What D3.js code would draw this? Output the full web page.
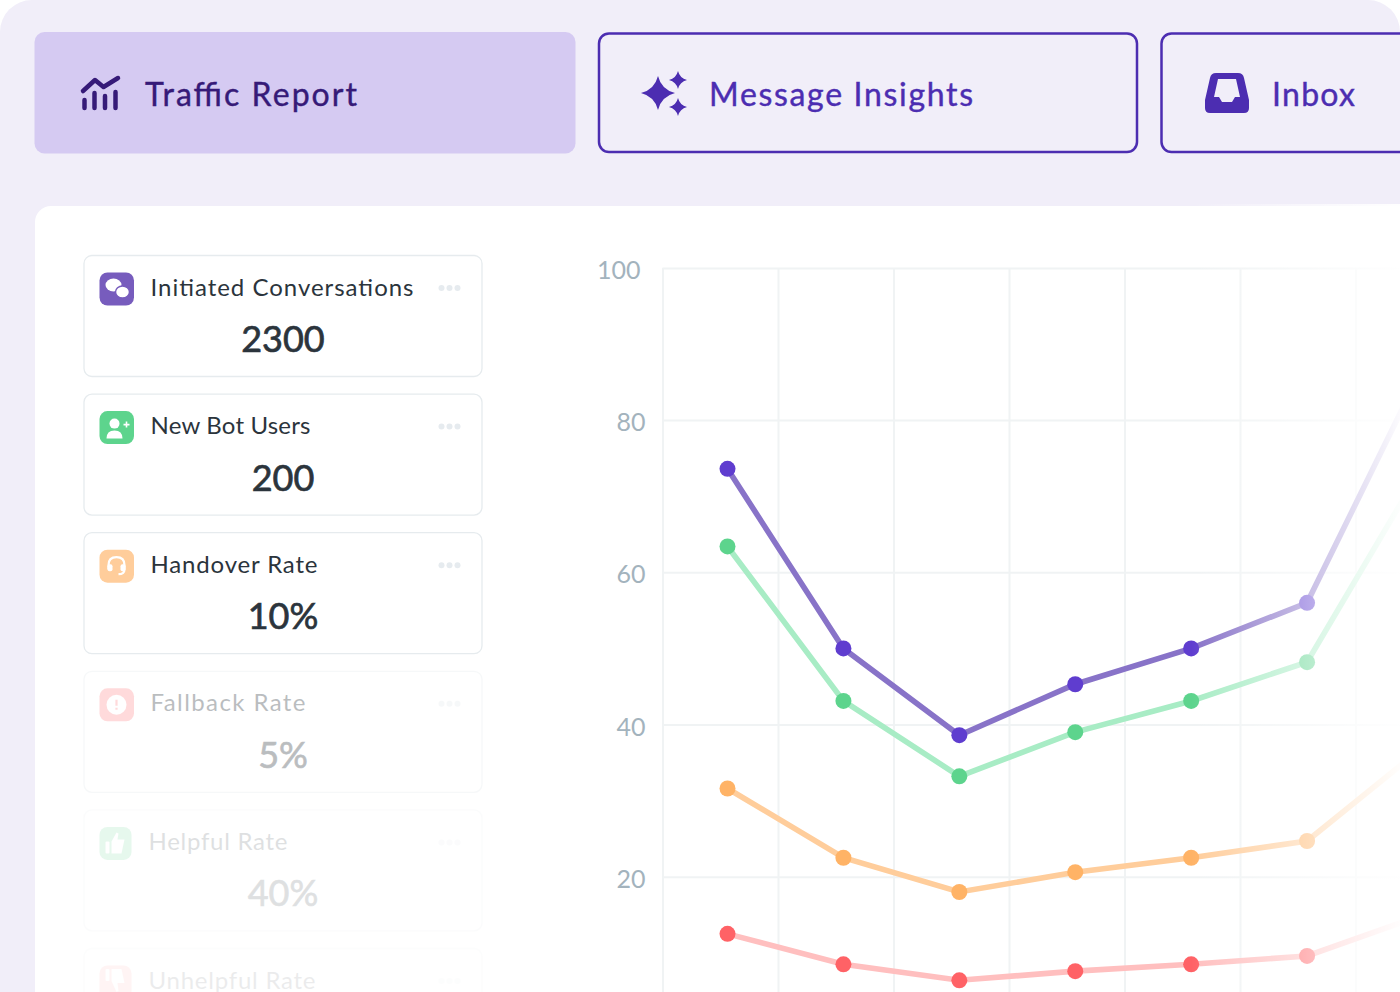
<!DOCTYPE html>
<html>
<head>
<meta charset="utf-8">
<script src="https://cdn.jsdelivr.net/npm/d3@7"></script>
<style>
  html, body { margin: 0; padding: 0; background: #fff; overflow: hidden; }
  svg { display: block; }
  text { font-family: Lato, "Noto Sans", sans-serif; }
  .y-axis path, .x-grid path { display: none; }
  .y-axis line, .x-grid line { stroke: #f0f3f4; stroke-width: 2; }
  .y-axis text { fill: #a3b3bd; font-size: 25px; }
</style>
</head>
<body>
<svg id="chart" width="1400" height="992"></svg>
<script>
// chart values
var tabNames = ["Traffic Report", "Message Insights", "Inbox"];
var cardNames = ["Initiated Conversations", "New Bot Users", "Handover Rate", "Fallback Rate", "Helpful Rate", "Unhelpful Rate"];
var cardValues = ["2300", "200", "10%", "5%", "40%", ""];
var periods = [1, 2, 3, 4, 5, 6, 7];
var yTicks = [20, 40, 60, 80, 100];
var conversations = [73.6, 50, 38.6, 45.3, 50, 56, 87];
var botUsers = [63.4, 43.1, 33.2, 39, 43.1, 48.2, 74];
var handovers = [31.6, 22.5, 18, 20.6, 22.5, 24.7, 37];
var fallbacks = [12.5, 8.5, 6.4, 7.6, 8.5, 9.6, 15];

var svg = d3.select("#chart");
var defs = svg.append("defs");

// styles per series and card, kept apart from the values
var seriesList = [
  {values: fallbacks, line: "#ffbfbf", dot: "#ff6266"},
  {values: handovers, line: "#ffcd9b", dot: "#ffb366"},
  {values: botUsers, line: "#a8ecc5", dot: "#5dd48d"},
  {values: conversations, line: "#8873c8", dot: "#5f3dcf"}
];
var cardStyle = [
  {icon: "#775cbd", fade: 1, textX: 67, textW: 263, iconW: 34.5},
  {icon: "#5dd48d", fade: 1, textX: 67, textW: 160, iconW: 34.5},
  {icon: "#ffcd9b", fade: 1, textX: 67, textW: 167, iconW: 34.5},
  {icon: "#ff8f92", fade: 0.32, textX: 67, textW: 155, iconW: 34.5},
  {icon: "#5dd48d", fade: 0.15, textX: 65, textW: 139, iconW: 32},
  {icon: "#ff8f92", fade: 0.09, textX: 65, textW: 167, iconW: 32}
];

// page background
svg.append("rect").attr("x", 0).attr("y", 0).attr("width", 1400).attr("height", 1100)
  .attr("rx", 32).attr("fill", "#f1eef9");
svg.append("rect").attr("x", 35).attr("y", 206).attr("width", 1420).attr("height", 850)
  .attr("rx", 16).attr("fill", "#fff");

// tabs
var tabX = [34.5, 599, 1161.5];
var tabW = [541, 538, 260];
var tabTextX = [145, 709, 1272];
var tabTextW = [212, 264, 83];
var tabs = svg.selectAll("g.tab").data(tabNames).enter().append("g").attr("class", "tab");
tabs.append("rect")
  .attr("x", function (d, i) { return tabX[i]; })
  .attr("y", function (d, i) { return i ? 33.5 : 32; })
  .attr("width", function (d, i) { return tabW[i]; })
  .attr("height", function (d, i) { return i ? 118.5 : 121.5; })
  .attr("rx", 10)
  .attr("fill", function (d, i) { return i ? "none" : "#d5caf2"; })
  .attr("stroke", function (d, i) { return i ? "#4c2db1" : "none"; })
  .attr("stroke-width", 2.5);
tabs.append("text")
  .attr("x", function (d, i) { return tabTextX[i]; })
  .attr("y", 106)
  .attr("font-size", 32)
  .attr("textLength", function (d, i) { return tabTextW[i]; })
  .attr("lengthAdjust", "spacing")
  .attr("fill", function (d, i) { return i ? "#4c2db1" : "#361a78"; })
  .attr("stroke", function (d, i) { return i ? "#4c2db1" : "#361a78"; })
  .attr("stroke-width", 0.4)
  .text(function (d) { return d; });

// tab icons
var chartIcon = svg.append("g").attr("fill", "none").attr("stroke", "#361a78")
  .attr("stroke-width", 4.5).attr("stroke-linecap", "round").attr("stroke-linejoin", "round");
chartIcon.append("path").attr("d", "M83 91L95 80L103.500 87L118 78");
[84.5, 94.5, 105, 115.500].forEach(function (x, i) {
  chartIcon.append("line").attr("x1", x).attr("x2", x).attr("y2", 108)
    .attr("y1", [100, 93, 96, 92][i]);
});
function sparkle(cx, cy, r) {
  var k = r * 0.2;
  return "M" + cx + " " + (cy - r) + "Q" + (cx + k) + " " + (cy - k) + " " + (cx + r) + " " + cy +
    "Q" + (cx + k) + " " + (cy + k) + " " + cx + " " + (cy + r) +
    "Q" + (cx - k) + " " + (cy + k) + " " + (cx - r) + " " + cy +
    "Q" + (cx - k) + " " + (cy - k) + " " + cx + " " + (cy - r) + "Z";
}
svg.append("path").attr("fill", "#4c2db1")
  .attr("d", sparkle(658, 93, 17) + sparkle(678, 80, 9) + sparkle(678, 107, 9));
svg.append("path").attr("fill", "#4c2db1").attr("fill-rule", "evenodd")
  .attr("d", "M1216 73H1238Q1243 73 1244 78L1249 100V108Q1249 113 1244 113H1210Q1205 113 1205 108V100L1210 78Q1211 73 1216 73Z" +
    "M1218 79L1214 97H1219L1222 102H1232L1235 97H1240L1236 79Z");

// metric cards
var cardY = d3.scaleLinear().domain([0, 5]).range([255, 948]);
var cards = svg.selectAll("g.card").data(cardNames).enter().append("g").attr("class", "card")
  .attr("transform", function (d, i) { return "translate(83.5," + cardY(i) + ")"; })
  .attr("opacity", function (d, i) { return cardStyle[i].fade; });
cards.append("rect").attr("x", 0.5).attr("y", 0.5).attr("width", 398).attr("height", 121)
  .attr("rx", 8).attr("fill", "#fff").attr("stroke", "#e6ebee").attr("stroke-width", 1.3);
cards.append("rect").attr("x", 16).attr("y", 17.5)
  .attr("width", function (d, i) { return cardStyle[i].iconW; }).attr("height", 33)
  .attr("rx", 8).attr("fill", function (d, i) { return cardStyle[i].icon; });
cards.append("text")
  .attr("x", function (d, i) { return cardStyle[i].textX; })
  .attr("y", 40.5)
  .attr("font-size", 24)
  .attr("textLength", function (d, i) { return cardStyle[i].textW; })
  .attr("lengthAdjust", "spacing")
  .attr("fill", "#2b343c")
  .text(function (d) { return d; });
cards.append("text").attr("x", 199.5).attr("y", 97)
  .attr("text-anchor", "middle").attr("font-size", 36)
  .attr("fill", "#2b343c").attr("stroke", "#2b343c").attr("stroke-width", 0.7)
  .text(function (d, i) { return cardValues[i]; });
[358, 366, 374].forEach(function (x) {
  cards.append("circle").attr("cx", x).attr("cy", 33).attr("r", 3).attr("fill", "#e6ebef");
});

// card icon glyphs
function glyph(i) { return cards.filter(function (d, j) { return j === i; }).append("g").attr("fill", "#fff"); }
var g0 = glyph(0);
g0.append("ellipse").attr("cx", 30).attr("cy", 30).attr("rx", 8).attr("ry", 6.5);
g0.append("ellipse").attr("cx", 39).attr("cy", 37).attr("rx", 7).attr("ry", 6)
  .attr("stroke", "#775cbd").attr("stroke-width", 1.5);
var g1 = glyph(1);
g1.append("circle").attr("cx", 31).attr("cy", 30).attr("r", 5);
g1.append("path").attr("d", "M23 45Q23 37 31 37Q39 37 39 45Z");
g1.append("path").attr("d", "M40 31H46M43 28V34").attr("stroke", "#fff").attr("stroke-width", 1.6);
var g2 = glyph(2);
g2.append("path").attr("fill", "none").attr("stroke", "#fff").attr("stroke-width", 2.2)
  .attr("d", "M25 37V33Q25 25 33 25Q41 25 41 33V37Q41 42 35 42");
g2.append("rect").attr("x", 24).attr("y", 32).attr("width", 5).attr("height", 7).attr("rx", 2);
g2.append("rect").attr("x", 37).attr("y", 32).attr("width", 5).attr("height", 7).attr("rx", 2);
var g3 = glyph(3);
g3.append("circle").attr("cx", 33).attr("cy", 34).attr("r", 10);
g3.append("path").attr("d", "M33 29V35M33 37V39").attr("stroke", "#ff8f92").attr("stroke-width", 2.2);
var g4 = glyph(4);
g4.append("rect").attr("x", 22).attr("y", 32).attr("width", 4).attr("height", 12).attr("rx", 1);
g4.append("path").attr("d", "M28 32L33 23L35 24L34 30H41L38 44H28Z");
var g5 = glyph(5);
g5.append("rect").attr("x", 22).attr("y", 21).attr("width", 4).attr("height", 12).attr("rx", 1);
g5.append("path").attr("d", "M28 33L33 44L35 43L34 35H41L38 21H28Z");

// chart scales and axes
var x = d3.scalePoint().domain(periods).range([727.5, 1423]);
var y = d3.scaleLinear().domain([0, 100]).range([1029, 267.9]);
var xGrid = d3.scaleLinear().domain([0, 6]).range([662.5, 1355.5]);

svg.append("g").attr("class", "y-axis")
  .attr("transform", "translate(662.5,0)")
  .call(d3.axisLeft(y).tickValues(yTicks).tickSize(-780).tickPadding(17))
  .selectAll("text")
  .attr("dy", "0.42em")
  .attr("x", function (d) { return d === 100 ? -22 : -17; });
svg.append("g").attr("class", "x-grid")
  .attr("transform", "translate(0,267.9)")
  .call(d3.axisBottom(xGrid).tickValues(d3.range(0, 7)).tickSize(760).tickFormat(""));

var line = d3.line()
  .x(function (d, i) { return x(periods[i]); })
  .y(function (d) { return y(d); });

var series = svg.selectAll("g.series").data(seriesList).enter().append("g").attr("class", "series");
series.append("path")
  .attr("fill", "none")
  .attr("stroke", function (d) { return d.line; })
  .attr("stroke-width", 5.6)
  .attr("d", function (d) { return line(d.values); });
series.each(function (s) {
  d3.select(this).selectAll("circle").data(s.values).enter().append("circle")
    .attr("cx", function (d, i) { return x(periods[i]); })
    .attr("cy", function (d) { return y(d); })
    .attr("r", 8)
    .attr("fill", s.dot);
});

// white fade over the right side of the panel
var fade = defs.append("linearGradient").attr("id", "fadeRight");
fade.append("stop").attr("offset", 0).attr("stop-color", "#fff").attr("stop-opacity", 0);
fade.append("stop").attr("offset", 1).attr("stop-color", "#fff").attr("stop-opacity", 0.97);
svg.append("rect").attr("x", 1191).attr("y", 204).attr("width", 209).attr("height", 788)
  .attr("fill", "url(#fadeRight)");
</script>
</body>
</html>
